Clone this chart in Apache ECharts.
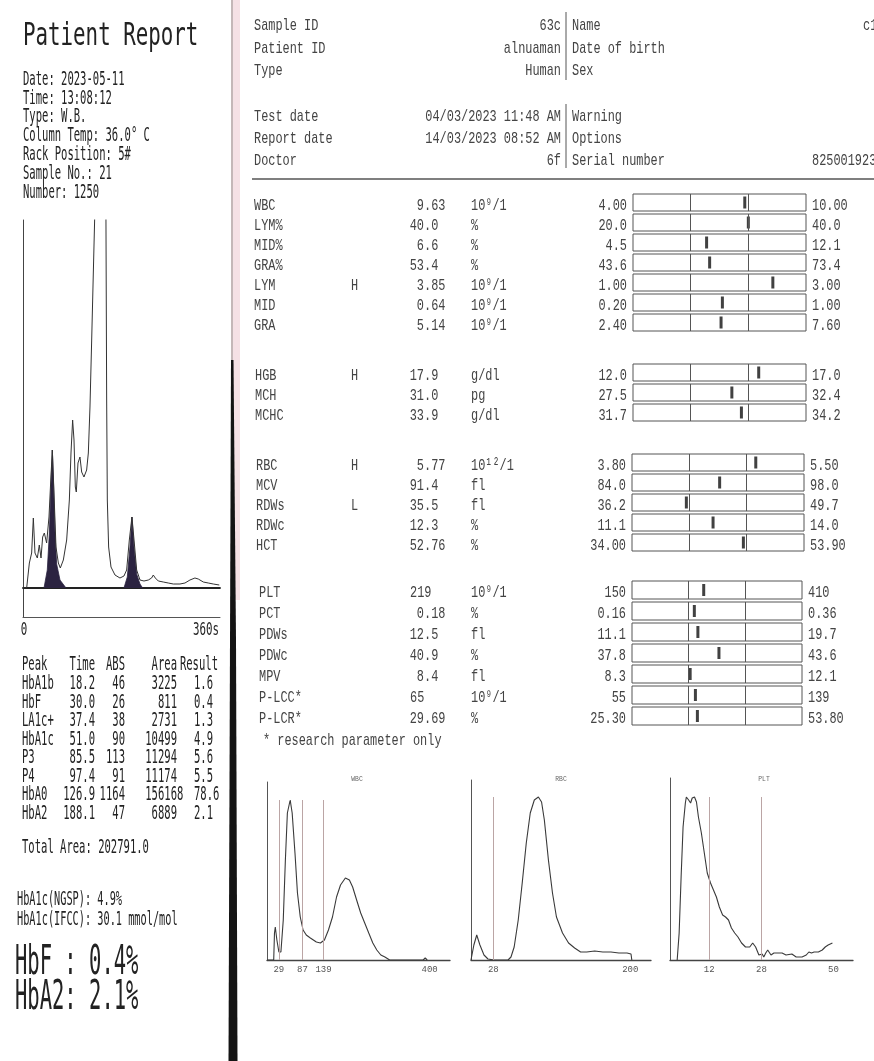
<!DOCTYPE html>
<html><head><meta charset="utf-8">
<script src="https://cdn.jsdelivr.net/npm/echarts@6/dist/echarts.min.js"></script>
<style>html,body{margin:0;padding:0;background:#fff}#c{width:874px;height:1061px}</style>
</head><body><div id="c"></div>
<script>
// ================= DATA =================
// Left: HPLC patient report
const leftTitle = 'Patient Report';
const infoLines = ['Date: 2023-05-11','Time: 13:08:12','Type: W.B.','Column Temp: 36.0° C','Rack Position: 5#','Sample No.: 21','Number: 1250'];
const peakHeader = ['Peak','Time','ABS','Area','Result'];
const peakNames  = ['HbA1b','HbF','LA1c+','HbA1c','P3','P4','HbA0','HbA2'];
const peakTimes  = ['18.2','30.0','37.4','51.0','85.5','97.4','126.9','188.1'];
const peakAbs    = ['46','26','38','90','113','91','1164','47'];
const peakArea   = ['3225','811','2731','10499','11294','11174','156168','6889'];
const peakResult = ['1.6','0.4','1.3','4.9','5.6','5.5','78.6','2.1'];
const totalArea  = 'Total Area: 202791.0';
const summarySmall = ['HbA1c(NGSP): 4.9%','HbA1c(IFCC): 30.1 mmol/mol'];
const summaryBig   = ['HbF : 0.4%','HbA2: 2.1%'];
const chromTickLabels = ['0','360s'];
// chromatogram trace [time s, signal]
const chromTrace = [[0,0],[6.7,0],[11.6,25],[15.8,35],[18.9,70],[21.9,35],[26.2,30],[29.8,43],[32.9,30],[35.9,51],[39,55],[43.2,45],[47.5,71],[50.5,105],[53.6,138],[56.6,95],[60.3,41],[64.6,25],[68.2,20],[73.7,28],[79.8,48],[84.7,88],[87.7,135],[90.7,168],[93.2,148],[95.6,101],[97.4,96],[100.5,125],[104.1,131],[107.2,116],[111.4,111],[116.3,118],[119.4,135],[122.4,181],[125.5,248],[128.5,315],[130.9,368],[141.3,1500],[151.6,368],[152.9,188],[154.1,88],[156.5,41],[160.8,21],[168.1,13],[177.2,10],[184.5,12],[189.4,18],[194.3,48],[199.1,71],[203.4,45],[207.7,18],[213.8,8],[221.1,7],[229,8],[235,10],[238.1,13],[241.8,10],[247.3,7],[256.4,6],[265.5,5],[274.7,4],[286.8,4],[296,5],[305.1,8],[314.2,10],[320.3,9],[329.5,6],[338.6,5],[347.7,4],[358.7,3]];
const hbfPeak  = [[38.4,0],[44.4,18],[48.1,54],[51.2,105],[53.6,138],[56,101],[58.5,55],[61.5,24],[67.6,8],[78.6,0]];
const hba2Peak = [[184.5,0],[190.6,11],[195.5,41],[199.1,71],[202.8,41],[207.7,14],[213.8,4],[218.6,0]];

// Right: hematology report header
const headLeftLabels  = ['Sample ID','Patient ID','Type','Test date','Report date','Doctor'];
const headLeftValues  = ['63c','alnuaman','Human','04/03/2023 11:48 AM','14/03/2023 08:52 AM','6f'];
const headRightLabels = ['Name','Date of birth','Sex','Warning','Options','Serial number'];
const headRightValues = ['c11','','','','','825001923'];

// Parameters
const paramNames  = ['WBC','LYM%','MID%','GRA%','LYM','MID','GRA','HGB','MCH','MCHC','RBC','MCV','RDWs','RDWc','HCT','PLT','PCT','PDWs','PDWc','MPV','P-LCC*','P-LCR*'];
const paramFlags  = ['','','','','H','','','H','','','H','','L','','','','','','','','',''];
const paramValues = ['9.63','40.0','6.6','53.4','3.85','0.64','5.14','17.9','31.0','33.9','5.77','91.4','35.5','12.3','52.76','219','0.18','12.5','40.9','8.4','65','29.69'];
const paramUnits  = ['10⁹/1','%','%','%','10⁹/1','10⁹/1','10⁹/1','g/dl','pg','g/dl','10¹²/1','fl','fl','%','%','10⁹/1','%','fl','%','fl','10⁹/1','%'];
const lowLimits   = ['4.00','20.0','4.5','43.6','1.00','0.20','2.40','12.0','27.5','31.7','3.80','84.0','36.2','11.1','34.00','150','0.16','11.1','37.8','8.3','55','25.30'];
const highLimits  = ['10.00','40.0','12.1','73.4','3.00','1.00','7.60','17.0','32.4','34.2','5.50','98.0','49.7','14.0','53.90','410','0.36','19.7','43.6','12.1','139','53.80'];
const paramGroups = [7,3,5,7];
const footnote = '* research parameter only';

// Histograms
const histTitles = ['WBC','RBC','PLT'];
const wbcTicks = [29,87,139,400];
const rbcTicks = [28,200];
const pltTicks = [12,28,50];
const wbcGuides = [29,87,139];
const rbcGuides = [28];
const pltGuides = [12,28];
const wbcHist = [[0,0],[16.5,0],[18.4,27],[20.4,33],[24.3,20],[29.2,8],[34.2,8],[40,40],[45.2,100],[50.1,147],[57,160],[61.9,147],[68.8,107],[74.9,67],[81.8,43],[88.7,30],[96.6,25],[106.6,22],[121.4,18],[131.3,17],[141.2,20],[151.1,30],[161,43],[171,63],[180.8,75],[192.7,82],[202.6,80],[210.6,73],[220.4,60],[230.4,47],[240.3,37],[250.2,27],[260.2,17],[270,10],[279.9,5],[289.9,3],[301.7,0],[384,0],[389,2],[394,0]];
const rbcHist = [[0,0],[0.6,2],[3.6,15],[7.2,25],[11.2,15],[16.3,5],[21.3,1],[28.9,0],[46.5,0],[50.2,3],[54.2,13],[59.3,40],[64.3,77],[69.4,117],[74.4,147],[79.5,160],[84.6,163],[88.6,158],[92.1,140],[97.2,100],[102.3,67],[107.3,43],[114.9,27],[122.5,17],[130.1,12],[137.6,8],[145.3,8],[155.3,9],[165.5,8],[175.7,8],[185.7,7],[195.9,7],[200.9,6],[201.9,0]];
const pltHist = [[2.2,0],[2.8,27],[3.4,83],[4.0,133],[4.7,157],[5.0,163],[5.7,160],[6.3,157],[6.8,162],[7.5,163],[8.1,158],[8.7,143],[9.6,127],[10.5,107],[11.4,87],[12.4,77],[13.3,70],[14.2,63],[15.1,53],[16.1,45],[17,43],[17.9,40],[18.8,32],[19.8,27],[20.8,23],[21.9,17],[23.1,13],[24.4,13],[25.3,17],[26.2,13],[27.2,5],[28.2,6],[28.7,3],[29.3,7],[29.9,10],[30.9,5],[31.8,7],[33,7],[34.3,7],[35.5,5],[37.3,6],[38.6,3],[40.4,3],[41.7,5],[42.5,8],[43.3,7],[44.1,8],[45.4,8],[46.6,10],[47.5,13],[48.4,15],[49.7,17]];

// ================= LAYOUT / RENDER =================
const LF = 'DejaVu Sans Mono', RF = 'Liberation Mono';
const LC = '#222', RC = '#444';
const G = [];
function txt(x, y, s, o) {
  G.push({type:'text', x:x, y:y, scaleX:o.sx||1, z:100, silent:true,
    style:{text:s, fontFamily:o.ff, fontSize:o.fs, fill:o.c, align:o.al||'left', verticalAlign:'middle'}});
}
function line(x1,y1,x2,y2,c,w){ G.push({type:'line', z:90, silent:true, shape:{x1,y1,x2,y2}, style:{stroke:c, lineWidth:w}}); }
const L = (x,y,s,al)=>txt(x,y,s,{ff:LF,fs:20,sx:0.527,c:LC,al:al});
const R = (x,y,s,al)=>txt(x,y,s,{ff:RF,fs:17,sx:0.7,c:RC,al:al});
const rcw = 17*0.6*0.7, lcw = 20*0.602*0.527;

// panel edges
G.push({type:'rect', z:1, silent:true, shape:{x:233,y:0,width:7,height:600}, style:{fill:'rgba(225,170,180,0.35)'}});
line(232,0,232,370,'#b0a0a0',1.5);
G.push({type:'polygon', z:95, silent:true, shape:{points:[[231,360],[233.5,360],[236,640],[237.5,1061],[228.5,1061],[230,640]]}, style:{fill:'#141414'}});

// left text
txt(23, 37, leftTitle, {ff:LF, fs:32, sx:0.65, c:LC});
const infoY = [80,99,117,136,155,174,193];
infoLines.forEach((s,i)=>L(23, infoY[i], s));
txt(24, 630, chromTickLabels[0], {ff:LF, fs:18, sx:0.6, c:LC, al:'center'});
txt(219, 630, chromTickLabels[1], {ff:LF, fs:18, sx:0.6, c:LC, al:'right'});
const tHead = 665, tRow0 = 684, tPitch = 18.5;
L(22, tHead, peakHeader[0]); L(95, tHead, peakHeader[1], 'right'); L(125, tHead, peakHeader[2], 'right');
L(177, tHead, peakHeader[3], 'right'); L(218, tHead, peakHeader[4], 'right');
peakNames.forEach((n,i)=>{
  const y = tRow0 + i*tPitch;
  const extra = Math.max(0, peakArea[i].length-5)*lcw;
  L(22, y, n); L(95, y, peakTimes[i], 'right'); L(125, y, peakAbs[i], 'right');
  L(177+extra, y, peakArea[i], 'right'); L(213+extra, y, peakResult[i], 'right');
});
L(22, 848, totalArea);
summarySmall.forEach((s,i)=>txt(17, 900+i*20, s, {ff:LF, fs:19, sx:0.54, c:LC}));
summaryBig.forEach((s,i)=>txt(15, 963+i*35, s, {ff:LF, fs:41, sx:0.5, c:LC}));

// right header
const headY = [25,48,70,116,138,160];
headLeftLabels.forEach((s,i)=>{
  R(254, headY[i], s); R(561, headY[i], headLeftValues[i], 'right'); R(572, headY[i], headRightLabels[i]);
});
R(863, headY[0], headRightValues[0]); R(812, headY[5], headRightValues[5]);
line(566,12,566,80,'#555',1); line(566,104,566,168,'#555',1);
line(252,179,874,179,'#555',1.6);

// parameter rows
const groupStart = [205,375,465,592], groupPitch = [20,20,20,21], nameX = [254,255,256,259];
const boxL = [633,633,632,632], boxR = [806,806,804,802], boxH = [17,17,17,18];
const grids = [], xAxes = [], yAxes = [], series = [];
let r = 0;
paramGroups.forEach((cnt,g)=>{
  for (let k=0;k<cnt;k++,r++){
    const y = groupStart[g] + k*groupPitch[g];
    R(nameX[g], y, paramNames[r]);
    if (paramFlags[r]) R(351, y, paramFlags[r]);
    const v = paramValues[r], d = v.indexOf('.');
    R(d>=0 ? 424 - d*rcw : 410, y, v);
    R(471, y, paramUnits[r]);
    R(boxL[g]-6, y, lowLimits[r], 'right');
    R(boxR[g]+6, y, highLimits[r]);
    const lo = parseFloat(lowLimits[r]), hi = parseFloat(highLimits[r]), span = hi-lo;
    const gi = grids.length;
    grids.push({left:boxL[g], top:y-11, width:boxR[g]-boxL[g], height:boxH[g], show:true, borderColor:'#555', borderWidth:1, backgroundColor:'transparent'});
    xAxes.push({gridIndex:gi, type:'value', min:lo-span, max:hi+span, show:false});
    yAxes.push({gridIndex:gi, type:'value', min:-1, max:1, show:false});
    series.push({type:'scatter', xAxisIndex:gi, yAxisIndex:gi, data:[[parseFloat(v),0]], symbol:'rect', symbolSize:[3,12], itemStyle:{color:'#111'}, silent:true,
      markLine:{silent:true, symbol:'none', label:{show:false}, lineStyle:{color:'#555', width:1, type:'solid'}, data:[{xAxis:lo},{xAxis:hi}]}});
  }
});
R(263, 740, footnote);

// chromatogram grid
const cg = grids.length;
grids.push({left:23, top:220, width:197, height:368});
xAxes.push({gridIndex:cg, type:'value', min:0, max:360, axisLine:{show:true, onZero:false, lineStyle:{color:'#222', width:1.8}}, axisTick:{show:false}, axisLabel:{show:false}, splitLine:{show:false}});
yAxes.push({gridIndex:cg, type:'value', min:0, max:368, axisLine:{show:true, lineStyle:{color:'#444', width:1}}, axisTick:{show:false}, axisLabel:{show:false}, splitLine:{show:false}});
series.push({type:'line', xAxisIndex:cg, yAxisIndex:cg, data:hbfPeak, showSymbol:false, lineStyle:{color:'#2b2340', width:0.8}, areaStyle:{color:'#2b2340', opacity:1}, silent:true});
series.push({type:'line', xAxisIndex:cg, yAxisIndex:cg, data:hba2Peak, showSymbol:false, lineStyle:{color:'#2b2340', width:0.8}, areaStyle:{color:'#2b2340', opacity:1}, silent:true});
series.push({type:'line', xAxisIndex:cg, yAxisIndex:cg, data:chromTrace, showSymbol:false, clip:true, lineStyle:{color:'#333', width:1}, silent:true});
// lower frame
const fg = grids.length;
grids.push({left:23, top:588, width:197, height:29});
xAxes.push({gridIndex:fg, type:'value', min:0, max:360, axisLine:{show:true, onZero:false, lineStyle:{color:'#555', width:1}}, axisTick:{show:false}, axisLabel:{show:false}, splitLine:{show:false}});
yAxes.push({gridIndex:fg, type:'value', min:0, max:1, axisLine:{show:true, lineStyle:{color:'#444', width:1}}, axisTick:{show:false}, axisLabel:{show:false}, splitLine:{show:false}});

// histograms
const hists = [
  {left:267, top:782, width:183, height:178, max:450, data:wbcHist, ticks:wbcTicks, guides:wbcGuides, gtop:160, tx:357},
  {left:471, top:780, width:180, height:180, max:226, data:rbcHist, ticks:rbcTicks, guides:rbcGuides, gtop:163, tx:561},
  {left:670, top:778, width:183, height:182, max:56, data:pltHist, ticks:pltTicks, guides:pltGuides, gtop:163, tx:764}
];
hists.forEach((h,i)=>{
  const gi = grids.length;
  grids.push({left:h.left, top:h.top, width:h.width, height:h.height});
  xAxes.push({gridIndex:gi, type:'value', min:0, max:h.max, axisLine:{show:true, onZero:false, lineStyle:{color:'#444', width:1.3}}, axisTick:{show:false},
    axisLabel:{show:true, customValues:h.ticks, fontFamily:RF, fontSize:9, color:'#555', margin:5}, splitLine:{show:false}});
  yAxes.push({gridIndex:gi, type:'value', min:0, max:h.height, axisLine:{show:true, lineStyle:{color:'#555', width:1}}, axisTick:{show:false}, axisLabel:{show:false}, splitLine:{show:false}});
  series.push({type:'line', xAxisIndex:gi, yAxisIndex:gi, data:h.data, showSymbol:false, lineStyle:{color:'#3a3a3a', width:1.1}, silent:true,
    markLine:{silent:true, symbol:'none', label:{show:false}, lineStyle:{color:'#bba5a5', width:1, type:'solid'},
      data:h.guides.map(v=>[{coord:[v,0]},{coord:[v,h.gtop]}])}});
  txt(h.tx, 779, histTitles[i], {ff:RF, fs:8, sx:0.8, c:'#666', al:'center'});
});

const chart = echarts.init(document.getElementById('c'), null, {renderer:'canvas'});
chart.setOption({
  backgroundColor:'#ffffff', animation:false,
  grid:grids, xAxis:xAxes, yAxis:yAxes, series:series,
  graphic:{elements:G}
});
</script></body></html>
